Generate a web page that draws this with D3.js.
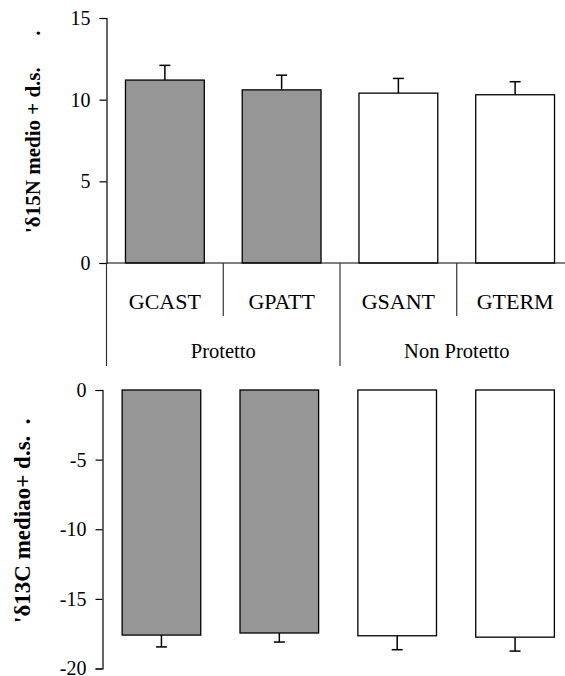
<!DOCTYPE html>
<html>
<head>
<meta charset="utf-8">
<script src="https://cdn.jsdelivr.net/npm/d3@7"></script>
<style>
  html, body { margin: 0; padding: 0; background: #fff; }
  svg { display: block; }
  text { font-family: "Liberation Serif", "Times New Roman", serif; fill: #000; }
</style>
</head>
<body>
<svg id="chart" width="565" height="676" font-family="Liberation Serif"></svg>
<script>
// ---- data ----
const categories = ["GCAST", "GPATT", "GSANT", "GTERM"];
const groups = ["Protetto", "Protetto", "Non Protetto", "Non Protetto"];
const groupNames = ["Protetto", "Non Protetto"];
const n15Mean = [11.2, 10.6, 10.4, 10.3];
const n15SD = [0.9, 0.9, 0.9, 0.8];
const c13Mean = [-17.6, -17.45, -17.65, -17.75];
const c13SD = [0.85, 0.65, 1.0, 1.0];
const n15Ticks = [0, 5, 10, 15];
const c13Ticks = [0, -5, -10, -15, -20];
const protectedFill = "#969696";
const otherFill = "#ffffff";

const svg = d3.select("#chart");
const fmt = d => String(d); // plain hyphen-minus like the original

function fillFor(i) { return groups[i] === "Protetto" ? protectedFill : otherFill; }

function styleAxis(g) {
  g.attr("font-family", "Liberation Serif");
  g.select(".domain").attr("stroke", "#000").attr("stroke-width", 1.2);
  g.selectAll(".tick line").attr("stroke", "#000").attr("stroke-width", 1.2);
  g.selectAll(".tick text").style("font-size", "20px");
}

// ---------------- top chart ----------------
const yTop = d3.scaleLinear().domain([0, 15]).range([263, 18]);
const xTop = d3.scaleBand().domain(categories).range([106.5, 573.5])
  .paddingInner(0.325).paddingOuter(0.1625);

const gTop = svg.append("g");
gTop.append("g").attr("transform", `translate(${xTop.range()[0]},0)`)
  .call(d3.axisLeft(yTop).tickValues(n15Ticks).tickFormat(fmt).tickSize(7).tickPadding(9))
  .call(styleAxis);

gTop.selectAll("rect.bar").data(categories).enter().append("rect")
  .attr("x", d => xTop(d)).attr("width", xTop.bandwidth())
  .attr("y", (d, i) => yTop(n15Mean[i]))
  .attr("height", (d, i) => yTop(0) - yTop(n15Mean[i]))
  .attr("fill", (d, i) => fillFor(i)).attr("stroke", "#000").attr("stroke-width", 1.3);

const capW = 11;
categories.forEach((c, i) => {
  const cx = xTop(c) + xTop.bandwidth() / 2;
  gTop.append("line").attr("x1", cx).attr("x2", cx)
    .attr("y1", yTop(n15Mean[i])).attr("y2", yTop(n15Mean[i] + n15SD[i]))
    .attr("stroke", "#000").attr("stroke-width", 1.5);
  gTop.append("line").attr("x1", cx - capW / 2).attr("x2", cx + capW / 2)
    .attr("y1", yTop(n15Mean[i] + n15SD[i])).attr("y2", yTop(n15Mean[i] + n15SD[i]))
    .attr("stroke", "#000").attr("stroke-width", 1.5);
});

const x0 = xTop.range()[0];
const step = xTop.step();
gTop.append("line").attr("x1", x0).attr("x2", 565)
  .attr("y1", yTop(0)).attr("y2", yTop(0)).attr("stroke", "#000").attr("stroke-width", 1.2);

categories.forEach((c, i) => {
  const xs = x0 + i * step;
  const isGroupStart = i === 0 || groups[i] !== groups[i - 1];
  gTop.append("line").attr("x1", xs).attr("x2", xs)
    .attr("y1", yTop(0)).attr("y2", isGroupStart ? 366 : 316)
    .attr("stroke", "#333").attr("stroke-width", 1.2);
  gTop.append("text").attr("x", xs + step / 2).attr("y", 308.5)
    .attr("text-anchor", "middle").style("font-size", "22px").text(c);
});
groupNames.forEach(gn => {
  const idx = categories.map((c, i) => i).filter(i => groups[i] === gn);
  const cx = x0 + (d3.min(idx) + d3.max(idx) + 1) / 2 * step;
  gTop.append("text").attr("x", cx).attr("y", 358)
    .attr("text-anchor", "middle").style("font-size", "20.5px").text(gn);
});

gTop.append("text").attr("transform", "translate(40,233) rotate(-90)")
  .attr("text-anchor", "start").style("font-size", "21px").style("font-weight", "bold")
  .style("white-space", "pre")
  .text("'δ15N medio + d.s.\u00a0\u00a0\u00a0\u00a0\u00a0\u00a0.");

// ---------------- bottom chart ----------------
const yBot = d3.scaleLinear().domain([0, -20]).range([390, 668.5]);
const xBot = d3.scaleBand().domain(categories).range([102.5, 574])
  .paddingInner(0.333).paddingOuter(0.1665);

const gBot = svg.append("g");
gBot.append("g").attr("transform", `translate(${xBot.range()[0]},0)`)
  .call(d3.axisLeft(yBot).tickValues(c13Ticks).tickFormat(fmt).tickSize(7).tickPadding(9))
  .call(styleAxis);

gBot.selectAll("rect.bar").data(categories).enter().append("rect")
  .attr("x", d => xBot(d)).attr("width", xBot.bandwidth())
  .attr("y", yBot(0))
  .attr("height", (d, i) => yBot(c13Mean[i]) - yBot(0))
  .attr("fill", (d, i) => fillFor(i)).attr("stroke", "#000").attr("stroke-width", 1.3);

categories.forEach((c, i) => {
  const cx = xBot(c) + xBot.bandwidth() / 2;
  const yEnd = yBot(c13Mean[i] - c13SD[i]);
  gBot.append("line").attr("x1", cx).attr("x2", cx)
    .attr("y1", yBot(c13Mean[i])).attr("y2", yEnd)
    .attr("stroke", "#000").attr("stroke-width", 1.5);
  gBot.append("line").attr("x1", cx - capW / 2).attr("x2", cx + capW / 2)
    .attr("y1", yEnd).attr("y2", yEnd)
    .attr("stroke", "#000").attr("stroke-width", 1.5);
});

gBot.append("text").attr("transform", "translate(30,623) rotate(-90)")
  .attr("text-anchor", "start").style("font-size", "23px").style("font-weight", "bold")
  .style("white-space", "pre")
  .text("'δ13C mediao+ d.s.\u00a0\u00a0.");
</script>
</body>
</html>
